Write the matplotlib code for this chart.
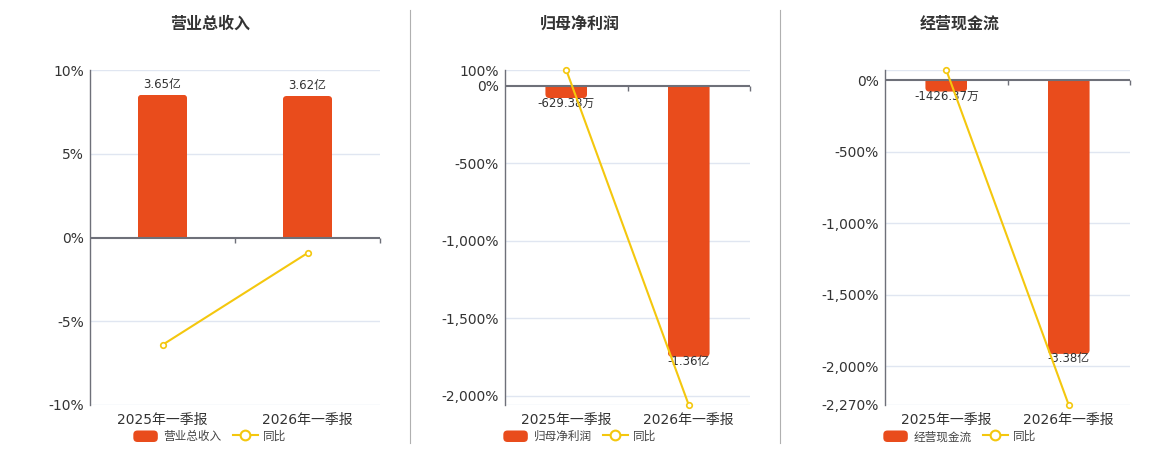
import matplotlib
matplotlib.use('Agg')
import matplotlib.pyplot as plt
import matplotlib.transforms as mtransforms
from matplotlib.patches import Patch, FancyBboxPatch
from matplotlib.lines import Line2D
from matplotlib.legend_handler import HandlerPatch

plt.rcParams['font.family'] = ['DejaVu Sans', 'Noto Sans CJK SC']

# 数据
categories = ['2025年一季报', '2026年一季报']
titles = ['营业总收入', '归母净利润', '经营现金流']

revenue = [3.65, 3.62]            # 亿
revenue_yoy = [-6.41, -0.93]      # %
revenue_labels = ['3.65亿', '3.62亿']

profit = [-0.062938, -1.36]       # 亿
profit_yoy = [100.0, -2061.0]
profit_labels = ['-629.38万', '-1.36亿']

cash = [-0.142637, -3.38]         # 亿
cash_yoy = [70.0, -2270.0]
cash_labels = ['-1426.37万', '-3.38亿']

pct_ticks = [[10, 5, 0, -5, -10],
             [100, 0, -500, -1000, -1500, -2000],
             [0, -500, -1000, -1500, -2000, -2270]]

# 版式
W, H = 1160, 450
axes_left = [90, 505, 885]
axes_right = [380, 750, 1130]
axes_top, axes_bottom = 70, 405
pct_lims = [(-10, 10), (-2061, 100), (-2270, 70)]
bar_scale = [3.65 / 8.52, 1.36 / 1750, 3.38 / 1913]   # 亿 per %
center_x = [210, 580, 960]
sep_x = [410, 780]

bar_color = '#e94c1c'
line_color = '#f4c70e'
axis_color = '#6e7079'
grid_color = '#e0e6f1'
text_color = '#333333'

panels = [(revenue, revenue_yoy, revenue_labels),
          (profit, profit_yoy, profit_labels),
          (cash, cash_yoy, cash_labels)]


def rounded_handle(legend, orig_handle, xdescent, ydescent, width, height, fontsize):
    return FancyBboxPatch((-xdescent, -ydescent), width, height,
                          boxstyle='round,pad=0,rounding_size=3')


fig = plt.figure(figsize=(W / 100, H / 100), dpi=100)

for i, (vals, yoy, labels) in enumerate(panels):
    l, r = axes_left[i], axes_right[i]
    w_px, h_px = r - l, axes_bottom - axes_top
    ax = fig.add_axes([l / W, (H - axes_bottom) / H, w_px / W, h_px / H])
    axb = ax.twinx()
    ax.set_zorder(2)
    axb.set_zorder(1)
    ax.patch.set_visible(False)

    lo, hi = pct_lims[i]
    ax.set_xlim(-0.5, 1.5)
    ax.set_ylim(lo, hi)
    axb.set_ylim(lo * bar_scale[i], hi * bar_scale[i])

    # 网格线（画在柱子下面）
    trans = mtransforms.blended_transform_factory(axb.transAxes, ax.transData)
    for v in sorted(set(pct_ticks[i] + [lo, hi])):
        if v == 0:
            continue
        axb.plot([0, 1], [v, v], color=grid_color, lw=1, transform=trans, zorder=0)

    # 圆角柱
    xu = 2.0 / w_px
    yu = (hi - lo) * bar_scale[i] / h_px
    rad = 4
    bars = axb.bar([0, 1], vals, width=0.34, color='none', edgecolor='none')
    for rect, v in zip(bars, vals):
        ext = 2 * rad * yu
        if v >= 0:
            y0, hh = -ext, v + ext
        else:
            y0, hh = v, -v + ext
        p = FancyBboxPatch((rect.get_x(), y0), rect.get_width(), hh,
                           boxstyle=f'round,pad=0,rounding_size={rad * xu}',
                           mutation_aspect=yu / xu, fc=bar_color, ec='none', zorder=2)
        axb.add_patch(p)
        p.set_clip_path(rect)

    for x, v, lab in zip([0, 1], vals, labels):
        axb.annotate(lab, (x, v), xytext=(0, 7.5 if v > 0 else -3.5),
                     textcoords='offset points', ha='center', va='center',
                     fontsize=8.5, color=text_color, zorder=4)

    axb.set_yticks([])
    for s in axb.spines.values():
        s.set_visible(False)

    # 同比折线
    ax.axhline(0, color=axis_color, lw=1.5, zorder=3)
    ax.plot([0.5, 1.5], [0, 0], ls='none', marker=3, ms=3.5, mew=1,
            color=axis_color, clip_on=False, zorder=3)
    ax.plot([0, 1], yoy, color=line_color, lw=1.5, marker='o', ms=4,
            mfc='white', mec=line_color, mew=1.2, clip_on=False, zorder=5)

    for side in ['top', 'right', 'bottom']:
        ax.spines[side].set_visible(False)
    ax.spines['left'].set_color(axis_color)
    ax.spines['left'].set_linewidth(1)

    ax.set_xticks([0, 1])
    ax.set_xticklabels(categories)
    ax.set_yticks(pct_ticks[i])
    ax.set_yticklabels([f'{v:,}%' for v in pct_ticks[i]])
    ax.tick_params(axis='x', length=0, pad=6, labelsize=10, labelcolor=text_color)
    ax.tick_params(axis='y', length=0, pad=4.5, labelsize=10, labelcolor=text_color)

    fig.text(center_x[i] / W, 1 - 23.3 / H, titles[i], ha='center', va='center',
             fontsize=11.5, fontweight='bold', color=text_color,
             family=['Noto Sans CJK SC', 'DejaVu Sans'])

    handles = [Patch(facecolor=bar_color),
               Line2D([], [], color=line_color, lw=1.5, marker='o', ms=7,
                      mfc='white', mec=line_color, mew=1.5)]
    fig.legend(handles, [titles[i], '同比'], loc='center',
               bbox_to_anchor=(center_x[i] / W, 1 - 436.7 / H), ncol=2,
               frameon=False, fontsize=8.4, handlelength=2.1, handleheight=1.14,
               handletextpad=0.5, columnspacing=0.97, labelcolor='#444444',
               handler_map={Patch: HandlerPatch(patch_func=rounded_handle)},
               prop={'family': ['Noto Sans CJK SC', 'DejaVu Sans'], 'size': 8.4})

for x in sep_x:
    fig.add_artist(Line2D([x / W, x / W], [1 - 10 / H, 1 - 443 / H],
                          transform=fig.transFigure, color='#b0b0b0', lw=0.8))

fig.savefig('out.png', dpi=100)
